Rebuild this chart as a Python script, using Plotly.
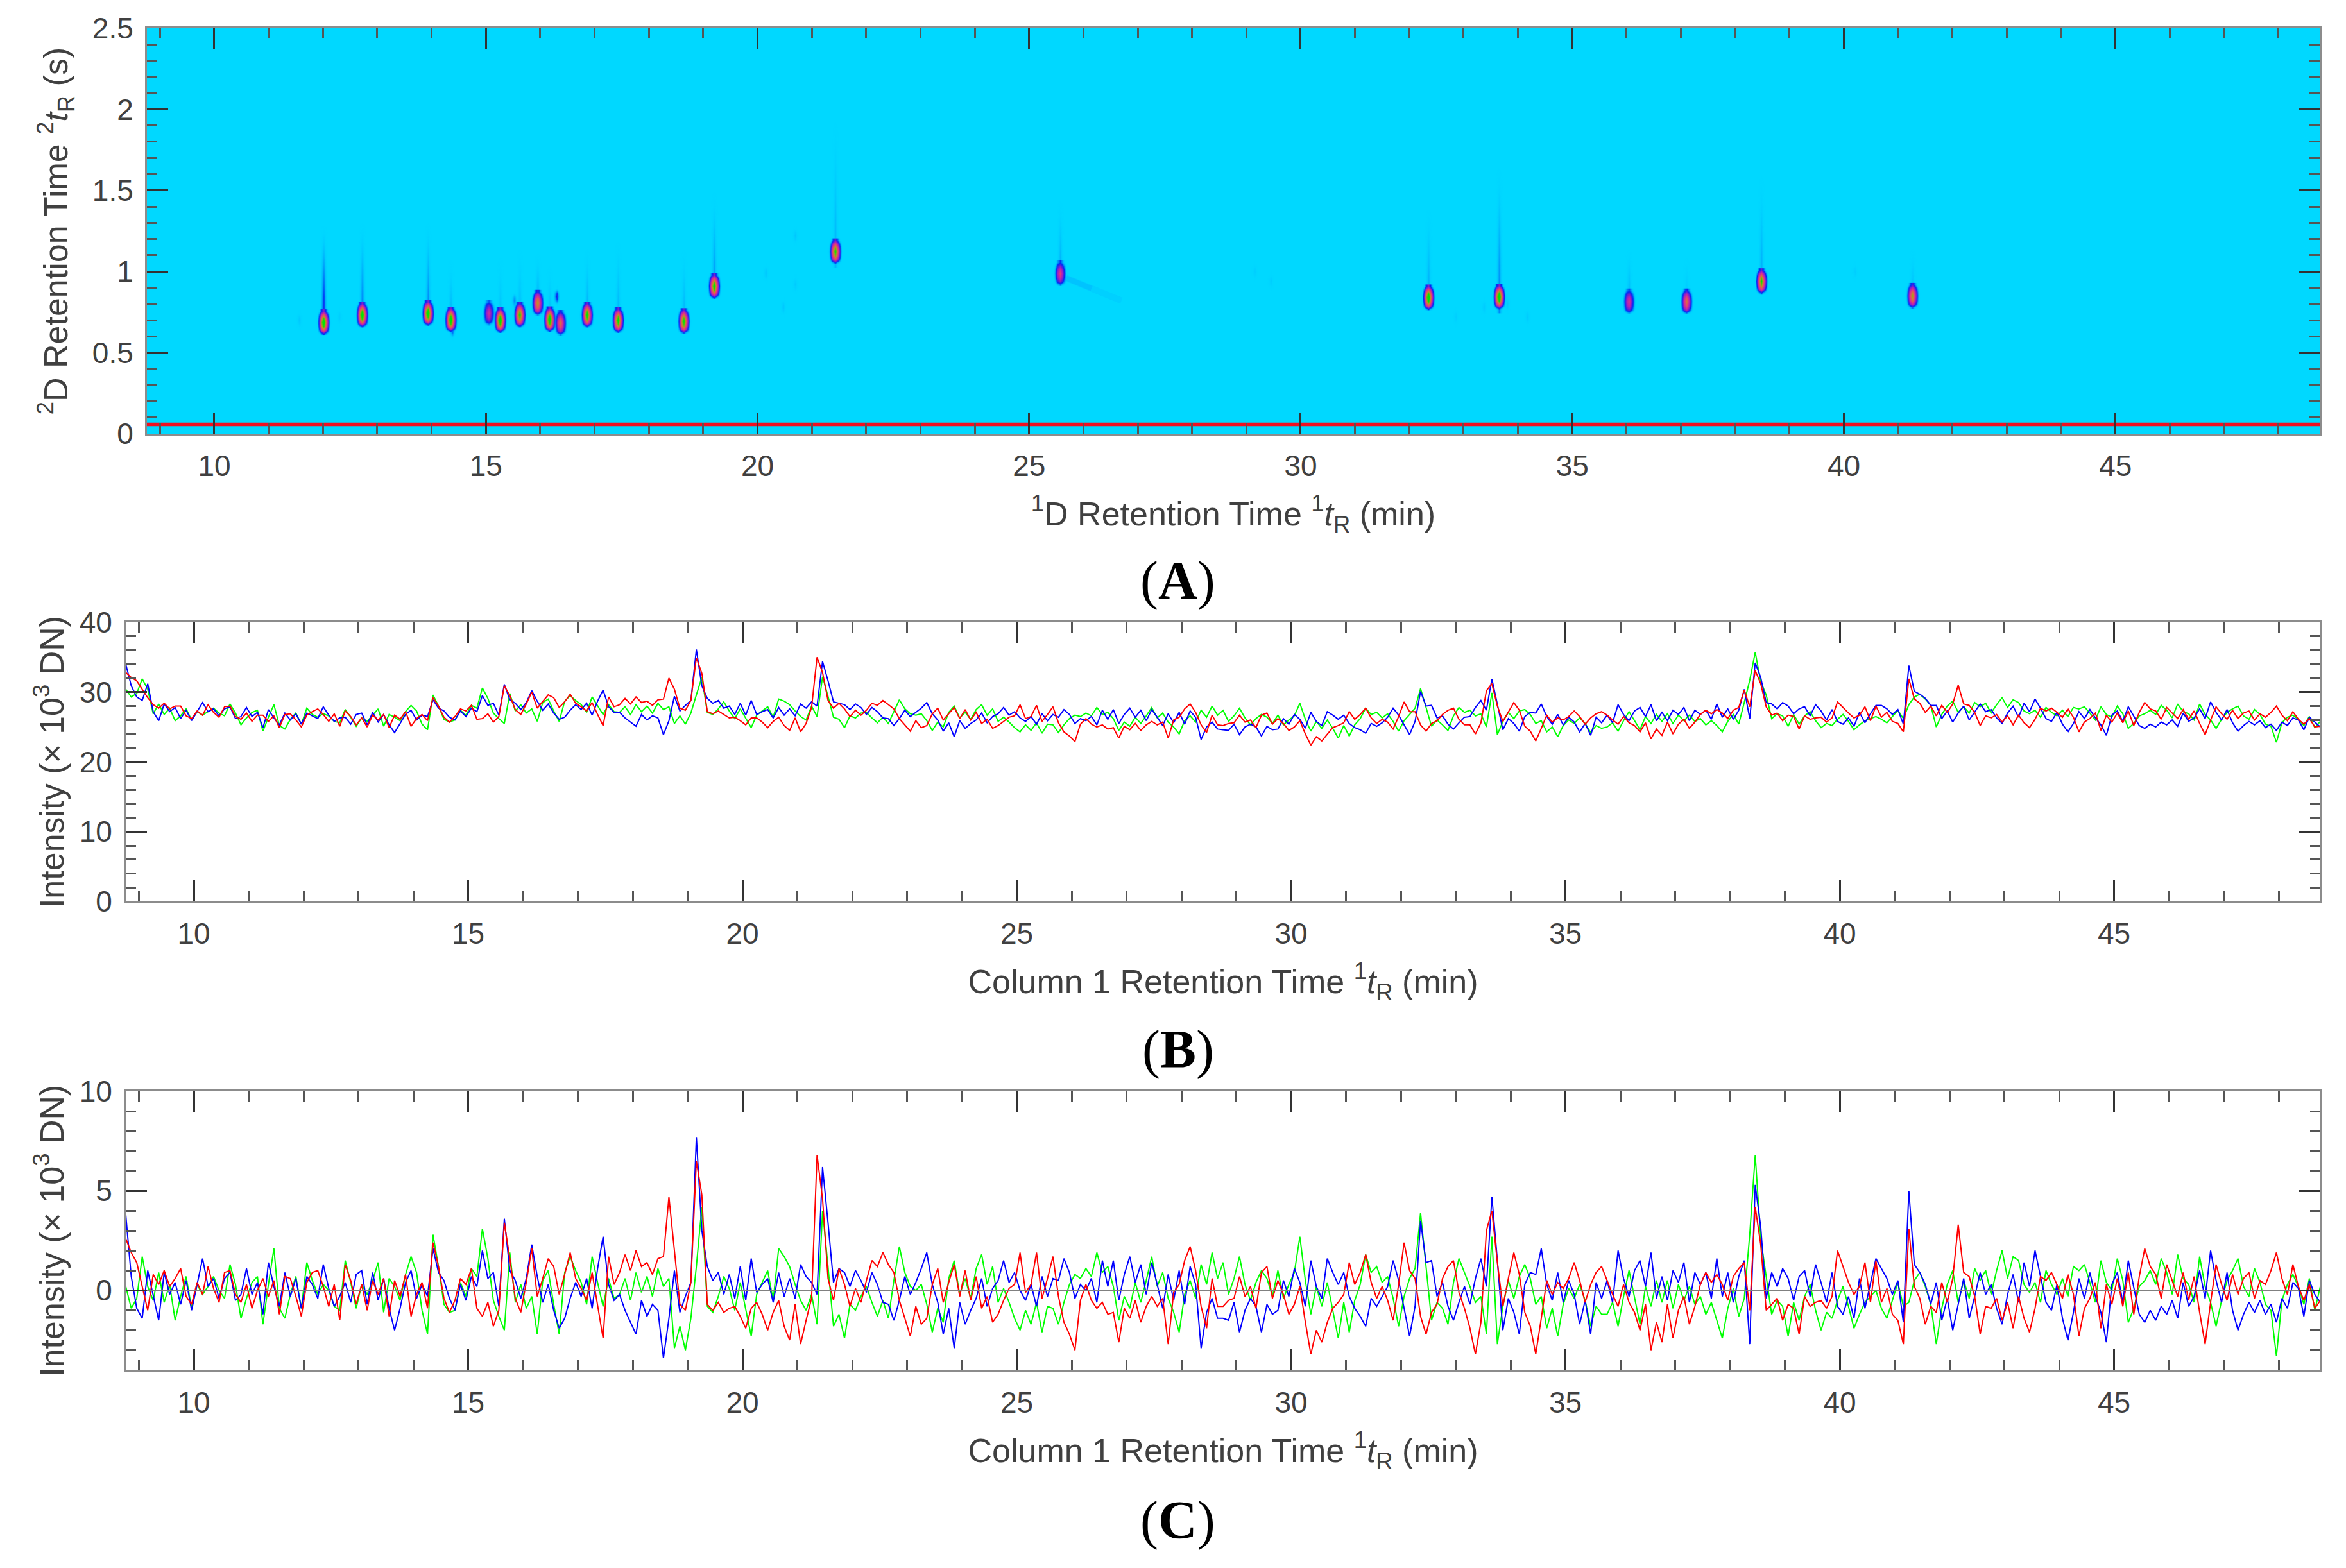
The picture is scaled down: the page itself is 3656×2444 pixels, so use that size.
import numpy as np
import plotly.graph_objects as go
from plotly.subplots import make_subplots

# residual intensity (x10^3 DN) per channel, one row per minute from 8.76 min at 0.1 min
red = [
    2.6,1.9,1.4,0.2,-1.0,0.8,0.3,1.0,0.2,0.6,
    1.1,-0.3,-0.7,0.4,-0.2,1.2,0.1,-0.6,0.9,1.0,
    -0.2,-0.6,0.3,-0.9,0.0,0.6,-0.3,0.5,-1.2,0.7,
    0.6,-0.3,-1.3,0.4,0.9,1.0,0.2,-0.8,0.3,-1.5,
    1.3,0.5,-0.7,0.3,-1.0,0.5,-0.2,0.6,-1.3,0.5,
    -0.3,0.8,-1.3,-0.2,0.4,-0.9,2.4,1.2,-0.4,-1.1,
    -0.5,0.6,0.3,1.1,-0.9,-1.3,-0.6,-1.8,-1.0,3.4,
    1.6,-0.4,-1.1,0.4,2.1,-0.3,0.6,1.6,1.2,-0.2,
    0.8,1.9,0.6,0.1,-0.5,0.9,-0.8,-2.4,1.7,0.3,
    0.9,1.8,1.0,2.0,1.2,1.4,0.8,1.6,1.7,4.7,
    2.0,-0.7,-1.0,0.4,6.5,4.8,-0.7,-1.0,-0.6,-1.1,
    -0.9,-0.8,-1.3,-1.9,-0.9,-0.6,-1.2,-2.0,-1.1,-0.5,
    -1.8,-2.5,-0.7,-2.7,-1.5,-0.4,6.8,4.6,0.6,-0.5,
    1.1,0.3,-0.8,0.1,-0.6,0.5,1.5,1.2,1.9,1.3,
    0.9,-0.5,-1.4,-2.3,-0.8,-1.7,-1.4,0.3,1.1,-0.6,
    0.4,1.3,-0.3,1.0,-0.5,0.7,-0.9,-0.3,-1.6,-1.2,
    -0.5,0.1,0.3,1.9,-0.1,0.3,1.9,-0.4,0.6,1.7,
    -0.3,-1.6,-2.2,-3.0,-0.5,0.3,-0.5,-0.9,-0.6,-1.2,
    -1.1,-2.6,-0.9,-1.4,-0.5,-1.6,-0.8,-0.3,-0.8,-0.4,
    -2.7,-0.1,0.3,1.5,2.2,1.0,-0.8,-1.9,0.6,-0.8,
    -0.8,-0.5,-0.4,0.7,-0.3,0.2,-0.9,0.9,1.2,-0.4,
    0.5,-0.2,-1.2,-0.7,0.2,-1.6,-3.2,-2.0,-2.6,-1.6,
    -0.9,-0.6,-0.2,1.4,0.3,0.9,1.8,0.4,-0.4,0.2,
    -0.5,-1.5,0.3,2.4,1.0,0.6,-1.3,-2.2,-1.1,-0.7,
    0.6,1.2,1.5,-0.1,-0.9,-1.9,-3.2,-1.6,3.0,4.0,
    1.4,-0.8,0.6,1.9,0.8,-1.1,-1.8,-3.2,-1.4,0.5,
    -0.2,0.4,0.1,0.6,1.4,0.5,-0.6,0.3,0.9,1.2,
    0.5,-0.2,-0.8,0.3,-0.6,-1.1,-2.0,-0.7,-3.0,-1.6,
    -2.6,-0.7,-2.4,-1.0,-0.3,-1.7,-0.8,0.3,0.9,0.4,
    0.8,0.3,-0.5,0.7,1.1,1.4,-1.0,4.2,2.3,-1.0,
    -0.7,-0.4,-1.5,-0.7,-0.9,-2.2,-0.3,-0.8,-0.6,-0.5,
    -0.9,-0.3,2.0,1.2,0.4,-0.2,0.2,1.4,-0.6,1.5,
    -0.6,0.1,-1.2,-1.5,-2.7,3.1,0.2,-0.4,-1.7,-0.8,
    -1.1,0.4,-0.6,0.6,3.3,0.9,0.7,-0.3,-2.2,-0.8,
    -0.9,-0.4,-1.5,-0.6,-1.9,-0.3,-1.4,-2.1,-0.9,0.7,
    0.5,0.9,0.3,-0.4,0.8,-0.2,-2.3,-0.9,-0.4,0.4,
    -1.9,0.3,-0.7,0.6,-0.8,0.9,-1.2,0.7,2.1,1.2,
    0.8,-0.4,1.3,0.5,-0.3,0.9,-0.5,0.7,-1.1,-2.7,
    -0.6,1.3,0.3,-0.5,0.8,-0.2,0.6,0.9,-0.4,0.5,
    0.3,1.0,1.9,0.6,-0.2,1.3,0.2,-0.5,0.3,-0.9,
    -0.5,
]
green = [
    0.2,-0.9,-0.4,1.7,0.2,-0.5,0.9,-0.6,0.3,-1.5,
    -0.3,0.7,-0.9,0.3,-0.2,0.2,0.7,0.0,-0.4,1.3,
    0.3,-1.4,-0.4,0.4,0.7,-1.7,0.3,2.1,-0.9,-1.4,
    -0.2,0.7,-0.9,1.4,0.5,-0.2,0.3,0.0,-0.8,-1.0,
    1.5,0.4,-0.9,0.3,-0.2,0.5,1.4,-1.1,0.6,0.2,
    -0.5,0.8,1.7,0.9,-1.0,-2.2,2.8,1.2,-0.7,-1.1,
    -1.0,0.4,-0.3,1.1,0.7,3.1,1.6,-0.5,-1.3,-2.0,
    1.9,-0.6,0.3,-0.9,-0.3,-2.2,0.5,1.0,-0.7,-2.2,
    0.9,1.7,1.0,0.4,-0.7,1.7,0.4,-0.8,0.6,-0.4,
    -0.2,0.6,-0.5,0.9,-0.1,0.7,-0.3,1.1,0.2,0.6,
    -2.9,-1.8,-3.0,-1.4,1.2,4.2,-0.8,-1.1,-0.3,0.7,
    0.1,-1.0,0.4,-0.9,-2.3,-0.2,0.4,1.0,-0.5,2.1,
    1.7,1.2,0.3,-0.5,-1.0,-0.2,-1.7,4.0,1.2,-1.8,
    -1.2,-2.4,-0.7,-1.0,-0.3,0.2,-0.6,-1.3,-0.5,-1.4,
    0.5,2.2,0.9,0.2,0.0,0.3,-0.7,-2.1,-0.9,-1.6,
    0.6,1.5,-0.2,0.6,-0.4,1.1,1.8,0.3,1.2,-0.6,
    0.1,-0.6,-1.4,-2.0,-1.0,-1.7,-0.6,-2.1,-0.8,-0.9,
    -1.7,-0.6,0.3,0.8,0.6,1.1,0.7,1.9,0.9,1.2,
    0.2,-1.5,-0.3,-0.9,0.4,-0.6,0.5,1.7,0.2,0.9,
    -0.4,-1.1,-2.1,-0.2,0.5,-0.4,1.3,0.3,1.9,0.6,
    1.4,-0.2,0.6,1.7,0.3,-0.5,0.4,1.0,0.6,-0.3,
    1.0,-0.4,0.3,0.9,2.7,0.5,-1.2,0.2,-0.8,0.4,
    -1.0,-2.4,-0.6,-2.1,-0.5,0.3,1.8,0.9,1.2,0.4,
    0.7,-0.4,-1.8,-0.3,0.6,1.1,3.9,1.2,-1.5,-0.6,
    -0.9,-1.7,0.4,1.6,0.9,0.2,-0.6,-0.3,-2.2,2.7,
    -2.7,-0.8,0.5,-0.4,0.7,1.3,0.6,-0.7,-0.3,-1.9,
    -0.9,-2.3,-0.7,0.1,-0.4,0.3,-0.5,-1.8,-0.8,-1.2,
    -1.2,-0.6,-1.8,-0.3,1.0,-0.4,-1.7,0.2,-0.8,0.5,
    -0.6,0.5,-0.9,0.3,-0.5,0.2,-0.7,-0.3,-1.2,-0.6,
    -1.5,-2.4,-0.9,0.1,-1.3,-0.4,2.8,6.8,2.6,0.7,
    -1.2,-0.5,-0.8,-2.3,-0.6,-1.5,-0.3,0.3,-1.0,-2.0,
    -1.1,-1.4,-0.5,0.2,-0.8,-1.9,-1.2,-0.6,-0.3,0.0,
    -0.9,-1.4,-0.5,0.4,-0.8,-0.6,0.5,0.9,0.2,-0.7,
    -2.7,-0.9,0.3,1.0,-0.6,0.5,-0.4,1.1,0.5,1.0,
    -0.2,1.0,2.0,0.6,1.7,1.5,0.3,-0.1,0.4,-0.6,
    1.0,0.3,-0.2,0.6,-0.3,1.2,1.0,1.3,0.4,-0.6,
    1.5,0.4,0.0,1.6,0.5,-1.6,-0.9,0.2,0.5,1.0,
    0.3,1.6,0.9,-0.2,1.8,0.6,0.3,-0.6,1.7,0.2,
    -0.6,-1.8,-0.5,0.5,1.0,1.6,0.2,-0.3,1.1,0.4,
    -0.7,-1.0,-3.3,-0.5,0.3,0.8,0.2,-0.7,0.6,-1.0,
    0.2,
]
blue = [
    3.8,0.7,-0.9,-1.4,1.0,-0.2,-1.5,0.9,-0.2,0.4,
    -0.7,0.5,-1.0,0.3,1.6,0.2,0.6,-0.4,0.6,0.9,
    -0.5,-0.2,1.1,-0.2,0.4,-1.2,1.4,0.2,-0.8,0.9,
    -0.3,0.6,-0.9,0.7,0.3,-0.4,1.3,0.1,-0.8,-0.3,
    0.4,-0.6,0.8,1.0,-0.7,0.9,-0.5,0.6,-0.9,-2.0,
    -0.9,0.4,1.0,-0.4,0.3,-0.3,2.1,0.9,0.5,-0.4,
    -1.0,0.3,-0.5,0.7,0.2,2.0,0.6,0.9,-0.8,3.6,
    1.0,0.5,-0.4,0.6,2.3,0.7,-0.6,0.3,-1.0,-1.9,
    -1.4,-0.4,0.4,-0.3,0.6,-0.9,1.1,2.7,0.3,-0.5,
    -0.2,-1.0,-1.6,-2.2,-0.5,-1.3,-0.7,-1.0,-3.4,-1.4,
    1.0,-1.1,-0.3,0.4,7.7,3.0,1.2,0.5,0.9,-0.2,
    0.8,-0.4,1.2,-0.5,1.6,-0.1,0.3,0.6,-0.6,0.9,
    -0.3,0.6,-0.4,1.3,0.7,0.4,-0.2,6.2,3.4,0.4,
    1.1,0.9,0.2,1.0,0.5,-0.1,0.9,0.3,-0.6,-0.7,
    -1.5,-0.5,0.7,-0.2,0.4,1.1,1.9,0.3,-0.6,-2.2,
    -0.9,-2.9,-0.6,-1.7,-1.0,-0.4,0.6,-0.8,0.1,0.5,
    1.5,0.4,0.9,0.0,-0.5,0.3,-0.8,0.7,-0.3,0.6,
    0.5,1.6,0.9,-0.4,0.3,0.0,0.6,-0.6,1.5,0.2,
    1.5,-0.5,0.8,1.7,0.4,1.3,-0.2,1.4,0.3,-0.9,
    0.8,-0.5,1.0,-0.7,1.2,0.3,-2.9,-1.1,-0.4,-1.4,
    -1.4,-1.5,-0.6,-2.1,-1.0,-0.4,-0.8,-2.1,-0.7,-1.2,
    -1.0,0.5,-0.3,1.1,0.4,-0.8,1.5,0.2,-0.4,1.6,
    0.9,0.3,0.9,-0.3,-0.9,-1.3,-1.8,-0.4,-0.8,-0.3,
    0.2,1.5,0.5,-0.9,-2.3,-0.8,3.5,1.4,1.5,-0.3,
    0.4,-0.8,-1.5,-0.6,0.2,-0.7,0.6,1.6,0.2,4.7,
    1.5,-2.0,-0.4,-1.1,-2.2,0.3,0.9,0.8,2.1,0.3,
    -0.5,0.9,-0.6,0.5,-0.2,-1.7,-0.5,-2.2,0.4,-0.4,
    0.5,-0.6,2.0,0.6,-0.3,1.0,1.5,0.2,1.9,-0.4,
    0.7,-0.5,1.0,0.4,1.4,-0.6,0.9,0.3,0.9,-0.4,
    1.6,-0.3,0.9,-0.6,0.7,1.5,-2.7,5.3,3.2,-0.4,
    0.9,0.2,1.1,0.6,-0.5,0.7,1.0,-0.3,1.3,0.4,
    -0.6,0.9,-0.8,-1.2,-0.3,-1.4,0.6,-0.9,0.4,1.6,
    1.1,0.6,-0.2,0.5,-1.6,5.0,1.3,0.9,0.3,-0.7,
    0.4,-1.5,-0.4,-2.0,-0.7,0.6,-1.4,-0.3,0.9,-0.2,
    0.3,-0.9,-1.7,-0.2,0.8,-0.6,1.4,0.2,2.0,0.7,
    -0.6,-1.0,0.3,-1.4,-2.5,-1.1,0.6,-0.4,0.9,-0.3,
    -1.1,-2.6,0.3,0.9,-0.6,1.5,0.2,-1.2,-1.6,-1.0,
    -1.5,-0.8,-1.2,-0.5,-1.4,0.4,-0.8,-0.3,1.0,-0.4,
    2.0,0.5,-0.6,0.9,-1.0,-2.0,-1.2,-0.6,-1.1,-0.5,
    -1.2,-0.7,-1.6,-0.4,-0.9,0.4,0.1,-1.3,0.5,-0.2,
    -0.6,
]
# slow level of panel B that panel C has removed, read every 0.5 min from 8.76 min
baseline = [
    30.2,27.4,26.9,27.0,26.7,26.1,26.3,26.6,26.0,26.2,
    26.4,26.8,27.0,27.5,27.9,28.0,27.8,27.6,27.3,27.3,
    28.4,27.9,27.2,26.9,27.0,28.2,27.3,26.9,26.7,26.6,
    26.5,26.4,26.3,26.2,25.9,25.9,26.0,26.1,26.1,26.1,
    26.0,25.8,25.7,25.6,25.8,25.9,26.2,26.6,26.2,27.2,
    26.6,26.2,25.9,26.0,26.2,26.3,26.4,26.5,26.7,28.9,
    27.4,26.9,26.6,26.5,27.0,28.8,27.7,27.4,27.2,27.0,
    26.8,26.6,26.4,26.4,26.5,26.6,26.6,26.4,26.1,25.9,
    25.6,
]

# GC x GC spots: first-dimension time, second-dimension time, peak level, tail top, tail level
spot_t1 = [12.01,12.72,13.93,14.35,15.05,15.26,15.62,15.95,16.17,16.37,16.86,17.43,18.64,19.20,21.43,25.57,32.35,33.65,36.04,37.10,38.48,41.26]
spot_t2 = [0.687,0.733,0.744,0.703,0.744,0.700,0.733,0.807,0.705,0.683,0.733,0.700,0.694,0.910,1.124,0.988,0.840,0.844,0.815,0.815,0.940,0.850]
spot_peak = [1.0,1.0,1.0,1.0,0.55,1.0,0.92,0.8,1.0,0.72,0.95,0.95,0.95,0.95,0.92,0.6,1.0,1.0,0.58,0.72,0.9,0.8]
spot_tail_top = [1.29,1.31,1.31,1.08,0.85,1.10,1.15,1.12,1.05,0.80,1.15,1.20,1.15,1.50,1.95,1.45,1.40,1.65,1.15,1.10,1.60,1.15]
spot_tail_level = [0.30,0.20,0.18,0.12,0.0,0.10,0.11,0.13,0.10,0.0,0.12,0.12,0.12,0.16,0.11,0.13,0.13,0.18,0.12,0.08,0.13,0.10]

# faint and small blue blobs
blob_t1 = [11.56,14.38,15.52,16.30,20.15,20.47,20.69,20.69,29.15,29.45,32.85,33.37,33.80,34.17,40.20,12.3]
blob_t2 = [0.70,0.64,0.82,0.846,0.99,0.78,0.92,1.22,1.00,0.94,0.72,0.78,0.80,0.72,1.00,0.72]
blob_level = [0.08,0.24,0.18,0.3,0.08,0.08,0.07,0.08,0.06,0.06,0.06,0.07,0.07,0.07,0.06,0.06]

# spot profile, relative to the peak level
shape_dx = [-0.12,-0.08,-0.04,0.0,0.04,0.08,0.12]
shape_dy = [-0.07,-0.05,-0.025,0.0,0.025,0.05,0.07]
spot_shape = [
    [0,0.02,0.10,0.25,0.10,0.02,0],
    [0,0.20,0.50,0.65,0.50,0.20,0],
    [0.02,0.32,0.68,0.88,0.68,0.32,0.02],
    [0.04,0.38,0.76,1.00,0.76,0.38,0.04],
    [0.02,0.32,0.68,0.88,0.68,0.32,0.02],
    [0,0.20,0.50,0.65,0.50,0.20,0],
    [0,0.04,0.25,0.40,0.25,0.04,0],
]
tail_steps = [0.0,0.25,0.5,0.75,1.0]
tail_fade = [1.0,0.85,0.6,0.3,0.0]
blob_dx = [-0.06,-0.025,0.0,0.025,0.06]
blob_dy = [-0.05,-0.02,0.0,0.02,0.05]
blob_shape = [
    [0,0,0.1,0,0],
    [0,0.4,0.8,0.4,0],
    [0,0.5,1.0,0.5,0],
    [0,0.4,0.8,0.4,0],
    [0,0,0.1,0,0],
]
streak_x = [25.68,26.7]
streak_y = [0.96,0.82]
streak_inner_x = [25.68,26.15]
streak_inner_y = [0.96,0.895]

red_line_y = 0.057

x_major = [10,15,20,25,30,35,40,45]
a_ticks = [0,0.5,1,1.5,2,2.5]
a_labels = ['0','0.5','1','1.5','2','2.5']
b_ticks = [0,10,20,30,40]
c_ticks = [0,5,10]

W, H = 3656, 2444
x_range = [8.76, 48.76]
heat_scale = [
    [0, 'rgba(0,216,255,0)'],
    [0.25, 'rgba(0,40,245,1)'],
    [0.45, 'rgba(170,30,190,1)'],
    [0.6, 'rgba(230,60,120,1)'],
    [0.75, 'rgba(200,140,40,1)'],
    [0.9, 'rgba(0,230,0,1)'],
    [1, 'rgba(0,230,0,1)'],
]

fig = make_subplots(rows=3, cols=1)


def add_patch(x, y, z):
    fig.add_trace(go.Heatmap(x=x, y=y, z=z, zmin=0, zmax=1, colorscale=heat_scale, zsmooth='best',
                             showscale=False, hoverinfo='skip'), row=1, col=1)


# panel A
fig.add_trace(go.Scatter(x=streak_x, y=streak_y, mode='lines', hoverinfo='skip',
                         line=dict(color='rgba(0,120,255,0.08)', width=10)), row=1, col=1)
fig.add_trace(go.Scatter(x=streak_inner_x, y=streak_inner_y, mode='lines', hoverinfo='skip',
                         line=dict(color='rgba(0,120,255,0.14)', width=8)), row=1, col=1)
for t1, t2, top, level in zip(spot_t1, spot_t2, spot_tail_top, spot_tail_level):
    if level > 0:
        ys = [t2 + f * (top - t2) for f in tail_steps]
        zs = [[0, level * f * 0.5, level * f, level * f * 0.5, 0] for f in tail_fade]
        add_patch([t1 - 0.07, t1 - 0.03, t1, t1 + 0.03, t1 + 0.07], ys, zs)
for t1, t2, level in zip(blob_t1, blob_t2, blob_level):
    add_patch([t1 + d for d in blob_dx], [t2 + d for d in blob_dy],
              [[level * v for v in row] for row in blob_shape])
for t1, t2, peak in zip(spot_t1, spot_t2, spot_peak):
    add_patch([t1 + d for d in shape_dx], [t2 + d for d in shape_dy],
              [[peak * v for v in row] for row in spot_shape])
fig.add_trace(go.Scatter(x=x_range, y=[red_line_y, red_line_y], mode='lines', hoverinfo='skip',
                         line=dict(color='#F01020', width=5.5)), row=1, col=1)

# panels B and C share the same three channels
level_idx = np.minimum(np.arange(len(red)) // 5, len(baseline) - 1)
level = np.array(baseline)[level_idx]
time_min = 8.76 + 0.1 * np.arange(len(red))
for values, color in [(green, '#00FF00'), (blue, '#0000FF'), (red, '#FF0000')]:
    fig.add_trace(go.Scatter(x=time_min, y=np.array(values) + level, mode='lines', hoverinfo='skip',
                             line=dict(color=color, width=2)), row=2, col=1)
    fig.add_trace(go.Scatter(x=time_min, y=values, mode='lines', hoverinfo='skip',
                             line=dict(color=color, width=2)), row=3, col=1)
fig.add_trace(go.Scatter(x=x_range, y=[0, 0], mode='lines', hoverinfo='skip',
                         line=dict(color='#808080', width=2.5)), row=3, col=1)

fig.add_shape(type='rect', x0=x_range[0], x1=x_range[1], y0=0, y1=2.5, xref='x', yref='y',
              layer='below', line_width=0, fillcolor='#00D8FF')

tick_font = dict(family='Liberation Sans', size=46, color='#404040')
title_font = dict(family='Liberation Sans', size=52, color='#404040')
x_common = dict(range=x_range, tickvals=x_major, ticks='inside', ticklen=33, tickwidth=2.5, tickcolor='#333333',
                showline=True, linecolor='#8c8c8c', linewidth=3, mirror='allticks', showgrid=False, zeroline=False,
                automargin=False, tickfont=tick_font, ticklabelstandoff=8,
                minor=dict(ticks='inside', dtick=1, tick0=0, ticklen=16, tickwidth=2.5, tickcolor='#555555', showgrid=False))
y_common = dict(ticks='inside', ticklen=33, tickwidth=2.5, tickcolor='#333333',
                showline=True, linecolor='#8c8c8c', linewidth=3, mirror='allticks', showgrid=False, zeroline=False,
                automargin=False, tickfont=tick_font, ticklabelstandoff=9)


def minor_y(step):
    return dict(ticks='inside', dtick=step, tick0=0, ticklen=16, tickwidth=2.5, tickcolor='#555555', showgrid=False)


y_title_c = 'Intensity (× 10<sup>3</sup> DN)'
x_title_bc = 'Column 1 Retention Time <sup>1</sup><i>t</i><sub>R</sub> (min)'
fig.update_layout(
    width=W, height=H, autosize=False, showlegend=False,
    paper_bgcolor='white', plot_bgcolor='white',
    margin=dict(l=0, r=0, t=0, b=0, autoexpand=False),
    xaxis=dict(x_common, domain=[229 / W, 3615 / W],
               title=dict(text='<sup>1</sup>D Retention Time <sup>1</sup><i>t</i><sub>R</sub> (min)', font=title_font, standoff=32)),
    yaxis=dict(y_common, domain=[1 - 676 / H, 1 - 44 / H], range=[0, 2.5], tickvals=a_ticks, ticktext=a_labels,
               minor=minor_y(0.1),
               title=dict(text='<sup>2</sup>D Retention Time <sup>2</sup><i>t</i><sub>R</sub> (s)', font=title_font, standoff=22)),
    xaxis2=dict(x_common, domain=[196 / W, 3616 / W], title=dict(text=x_title_bc, font=title_font, standoff=32)),
    yaxis2=dict(y_common, domain=[1 - 1405 / H, 1 - 970 / H], range=[0, 40], tickvals=b_ticks,
                minor=minor_y(2), title=dict(text=y_title_c, font=title_font, standoff=8)),
    xaxis3=dict(x_common, domain=[196 / W, 3616 / W], title=dict(text=x_title_bc, font=title_font, standoff=32)),
    yaxis3=dict(y_common, domain=[1 - 2135.5 / H, 1 - 1701 / H], range=[-4, 10], tickvals=c_ticks,
                minor=minor_y(1), title=dict(text=y_title_c, font=title_font, standoff=8)),
)

for letter, y_px in [('A', 905), ('B', 1636), ('C', 2370)]:
    fig.add_annotation(text='(<b>%s</b>)' % letter, x=1836 / W, y=1 - y_px / H, xref='paper', yref='paper',
                       xanchor='center', yanchor='middle', showarrow=False,
                       font=dict(family='Liberation Serif', size=84, color='black'))

fig.write_html("out.html", post_script="document.body.style.margin='0';", config={'displayModeBar': False})
